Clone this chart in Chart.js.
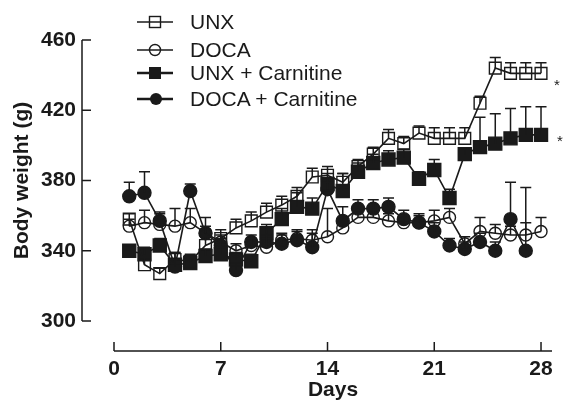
<!DOCTYPE html>
<html>
<head>
<meta charset="utf-8">
<script src="https://cdn.jsdelivr.net/npm/chart.js@4.4.1/dist/chart.umd.min.js"></script>
<style>
    html, body { margin: 0; padding: 0; background: #fff; }
    #wrap { position: relative; width: 564px; height: 401px; }
    canvas { display: block; }
    .leg { position: absolute; left: 137px; height: 24px; display: flex; align-items: center;
           font: 21px "Liberation Sans", Arial, sans-serif; color: #1a1a1a; white-space: nowrap; }
    .leg svg { margin-right: 17px; }
    .star { position: absolute; font: 15px "Liberation Sans", Arial, sans-serif; color: #1a1a1a; }
</style>
</head>
<body>
<div id="wrap">
    <canvas id="bw" width="564" height="401"></canvas>
    <div class="leg" style="top:10px">
        <svg width="36" height="16"><line x1="0" y1="8" x2="36" y2="8" stroke="#1a1a1a" stroke-width="1.6"/><rect x="12.5" y="2.5" width="11" height="11" fill="none" stroke="#1a1a1a" stroke-width="1.4"/></svg>UNX</div>
    <div class="leg" style="top:38px">
        <svg width="36" height="16"><line x1="0" y1="8" x2="36" y2="8" stroke="#1a1a1a" stroke-width="1.6"/><circle cx="18" cy="8" r="5.5" fill="none" stroke="#1a1a1a" stroke-width="1.4"/></svg>DOCA</div>
    <div class="leg" style="top:61px">
        <svg width="36" height="16"><line x1="0" y1="8" x2="36" y2="8" stroke="#1a1a1a" stroke-width="2.4"/><rect x="12" y="2" width="12" height="12" fill="#1a1a1a"/></svg>UNX + Carnitine</div>
    <div class="leg" style="top:87px">
        <svg width="36" height="16"><line x1="0" y1="8" x2="36" y2="8" stroke="#1a1a1a" stroke-width="2.4"/><circle cx="19" cy="8" r="6" fill="#1a1a1a"/></svg>DOCA + Carnitine</div>
    <div class="star" style="left:554px; top:76px">*</div>
    <div class="star" style="left:557px; top:132px">*</div>
</div>
<script>
// Data (body weight in g, mean + upper error)
const days = [1, 2, 3, 4, 5, 6, 7, 8, 9, 10, 11, 12, 13, 14, 15, 16, 17, 18, 19, 20, 21, 22, 23, 24, 25, 26, 27, 28];

const unx      = [358, 332, 327, 335, 334, 343, 347, 353, 357, 362, 366, 371, 382, 383, 379, 388, 395, 404, 401, 407, 404, 404, 404, 424, 444, 441, 441, 441];
const unxErr   = [3, 4, 3, 4, 4, 5, 5, 5, 5, 5, 5, 5, 5, 5, 5, 4, 4, 5, 4, 4, 6, 6, 6, 4, 6, 6, 6, 6];

const doca     = [354, 356, 355, 354, 356, 350, 345, 340, 343, 342, 346, 347, 346, 348, 353, 359, 359, 357, 356, 356, 357, 359, 344, 351, 350, 349, 349, 351];
const docaErr  = [4, 7, 6, 10, 8, 9, 4, 4, 4, 5, 4, 4, 4, 16, 4, 4, 4, 4, 4, 4, 6, 5, 4, 8, 5, 5, 7, 8];

const unxC     = [340, 338, 343, 332, 333, 337, 338, 335, 334, 350, 358, 365, 364, 378, 374, 385, 390, 392, 393, 381, 386, 370, 395, 399, 401, 404, 406, 406];
const unxCErr  = [3, 4, 4, 7, 3, 4, 4, 4, 4, 5, 6, 8, 6, 6, 10, 5, 5, 5, 5, 4, 6, 5, 3, 17, 17, 17, 16, 16];

const docaC    = [371, 373, 357, 331, 374, 350, 343, 329, 345, 345, 344, 346, 342, 375, 357, 364, 364, 365, 358, 356, 351, 343, 341, 345, 340, 358, 340, null];
const docaCErr = [8, 12, 5, 4, 4, 4, 4, 4, 4, 4, 5, 6, 10, 4, 8, 5, 5, 5, 5, 5, 5, 4, 4, 5, 5, 21, 36, null];

const xTicks = [0, 7, 14, 21, 28];
const yTicks = [300, 340, 380, 420, 460];

const INK = '#1a1a1a';
const FONT = '"Liberation Sans", Arial, sans-serif';

function pts(vals) {
    return days.map((d, i) => ({ x: d, y: vals[i] }));
}

function series(label, vals, style, radius, filled) {
    return {
        label: label,
        data: pts(vals),
        borderColor: INK,
        borderWidth: 1.6,
        pointStyle: style,
        pointRadius: radius,
        pointBorderWidth: 1.4,
        pointBorderColor: INK,
        pointBackgroundColor: filled ? INK : 'rgba(0,0,0,0)',
        tension: 0,
        spanGaps: false
    };
}

const errSets = [unxErr, docaErr, unxCErr, docaCErr];
const valSets = [unx, doca, unxC, docaC];

// upward error bars, drawn over the markers like in the figure
const errorBars = {
    id: 'errorBars',
    afterDatasetsDraw(chart) {
        const { ctx } = chart;
        const y = chart.scales.y;
        ctx.save();
        ctx.strokeStyle = INK;
        ctx.lineWidth = 1.5;
        valSets.forEach((vals, i) => {
            const meta = chart.getDatasetMeta(i);
            vals.forEach((v, j) => {
                if (v == null || errSets[i][j] == null) return;
                const p = meta.data[j];
                const top = y.getPixelForValue(v + errSets[i][j]);
                ctx.beginPath();
                ctx.moveTo(p.x, p.y);
                ctx.lineTo(p.x, top);
                ctx.moveTo(p.x - 5.5, top);
                ctx.lineTo(p.x + 5.5, top);
                ctx.stroke();
            });
        });
        ctx.restore();
    }
};

// detached axes with inward ticks (prism style)
const offsetAxes = {
    id: 'offsetAxes',
    afterDraw(chart) {
        const { ctx } = chart;
        const { x, y } = chart.scales;
        const ax = 82, ay = 351;
        ctx.save();
        ctx.strokeStyle = INK;
        ctx.lineWidth = 1.5;
        ctx.beginPath();
        ctx.moveTo(ax, y.getPixelForValue(460));
        ctx.lineTo(ax, y.getPixelForValue(300));
        yTicks.forEach(v => {
            const py = y.getPixelForValue(v);
            ctx.moveTo(ax, py);
            ctx.lineTo(ax + 9, py);
        });
        ctx.moveTo(x.getPixelForValue(0), ay);
        ctx.lineTo(x.right, ay);
        xTicks.forEach(v => {
            const px = x.getPixelForValue(v);
            ctx.moveTo(px, ay);
            ctx.lineTo(px, ay - 9);
        });
        ctx.stroke();
        ctx.restore();
    }
};

const tickFont = { family: FONT, size: 21, weight: 'bold' };
const noGrid = { display: false, drawTicks: false, tickLength: 0 };

new Chart(document.getElementById('bw'), {
    type: 'line',
    data: {
        datasets: [
            series('UNX', unx, 'rect', 8.3, false),
            series('DOCA', doca, 'circle', 6, false),
            series('UNX + Carnitine', unxC, 'rect', 9.2, true),
            series('DOCA + Carnitine', docaC, 'circle', 6.5, true)
        ]
    },
    options: {
        responsive: false,
        animation: false,
        devicePixelRatio: 1,
        clip: false,
        layout: { padding: { top: 40, right: 12, left: 0, bottom: 0 } },
        plugins: { legend: { display: false }, tooltip: { enabled: false } },
        scales: {
            x: {
                type: 'linear',
                min: 0,
                max: 28.72,
                afterBuildTicks: s => { s.ticks = xTicks.map(v => ({ value: v })); },
                afterFit: s => { s.height = 80; s.paddingLeft = 0; s.paddingRight = 0; },
                grid: noGrid,
                border: { display: false },
                ticks: { padding: 36, color: INK, font: tickFont, maxRotation: 0, autoSkip: false },
                title: { display: true, text: 'Days', color: INK,
                         font: { family: FONT, size: 21, weight: 'bold', lineHeight: 1 },
                         padding: { top: 0, bottom: 0 } }
            },
            y: {
                min: 300,
                max: 460,
                afterBuildTicks: s => { s.ticks = yTicks.map(v => ({ value: v })); },
                afterFit: s => { s.width = 114; s.paddingTop = 0; s.paddingBottom = 0; },
                grid: noGrid,
                border: { display: false },
                ticks: { padding: 38, color: INK, font: tickFont },
                title: { display: true, text: 'Body weight (g)', color: INK,
                         font: { family: FONT, size: 21, weight: 'bold', lineHeight: 1.2 },
                         padding: { top: 10, bottom: 0 } }
            }
        }
    },
    plugins: [errorBars, offsetAxes]
});
</script>
</body>
</html>
